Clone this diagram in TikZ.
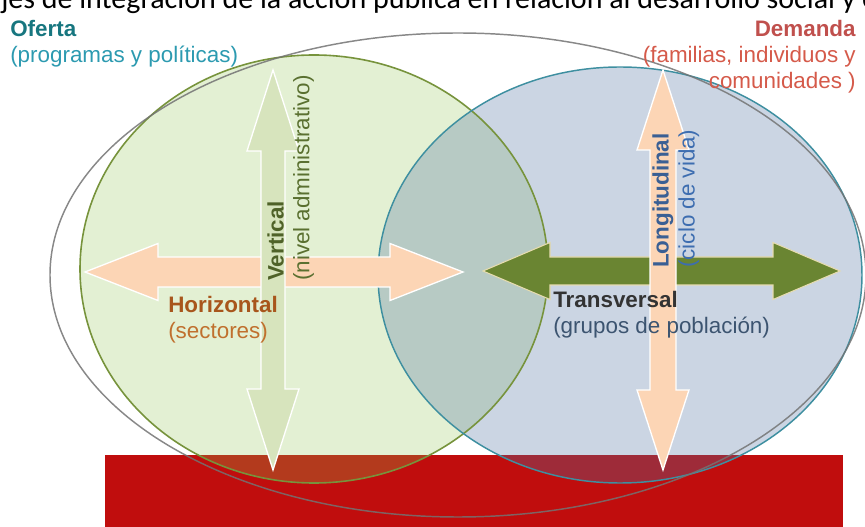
\documentclass[tikz,border=0pt]{standalone}
\usepackage{fontspec}
\setmainfont{Liberation Sans}
\newfontfamily\titlefont{Carlito}
\usepackage{xcolor}
\usetikzlibrary{positioning}

\definecolor{ofertaTeal}{HTML}{17767F}
\definecolor{ofertaLight}{HTML}{2C9AB0}
\definecolor{demandaRed}{HTML}{C0504D}
\definecolor{demandaLight}{HTML}{D55A4A}
\definecolor{vertGreen}{HTML}{4F6228}
\definecolor{vertLight}{HTML}{5A7030}
\definecolor{horzBrown}{HTML}{A8561C}
\definecolor{horzLight}{HTML}{C0702E}
\definecolor{transDark}{HTML}{333333}
\definecolor{transLight}{HTML}{3C5470}
\definecolor{longBlue}{HTML}{3A5F94}
\definecolor{longLight}{HTML}{3D6DB0}
\definecolor{peach}{HTML}{FCD5B5}
\definecolor{paleGreen}{HTML}{D7E4BD}
\definecolor{oliveGreen}{HTML}{6A8532}
\definecolor{oliveEdge}{HTML}{E6DCB0}
\definecolor{ofertaFill}{RGB}{143,195,79}
\definecolor{demandaFill}{RGB}{82,115,162}
\definecolor{ofertaLine}{HTML}{77933C}
\definecolor{demandaLine}{HTML}{3E8FA0}
\definecolor{baseRed}{HTML}{C00D0D}

% double arrows: style, left x, right x, y, head length, head half width, shaft half width
\newcommand{\harrow}[7]{\filldraw[#1] (#2,#4) -- (#2+#5,#4-#6) -- (#2+#5,#4-#7) -- (#3-#5,#4-#7) -- (#3-#5,#4-#6) -- (#3,#4) -- (#3-#5,#4+#6) -- (#3-#5,#4+#7) -- (#2+#5,#4+#7) -- (#2+#5,#4+#6) -- cycle;}
% style, x, top y, bottom y, head length, head half width, shaft half width
\newcommand{\varrow}[7]{\filldraw[#1] (#2,#3) -- (#2+#6,#3+#5) -- (#2+#7,#3+#5) -- (#2+#7,#4-#5) -- (#2+#6,#4-#5) -- (#2,#4) -- (#2-#6,#4-#5) -- (#2-#7,#4-#5) -- (#2-#7,#3+#5) -- (#2-#6,#3+#5) -- cycle;}

\tikzset{
  lbl/.style={inner sep=0pt, font=\fontsize{16.8}{19.5}\selectfont},
  peach arrow/.style={fill=peach, draw=white, line width=1pt},
  pale arrow/.style={fill=paleGreen, draw=white, line width=1pt},
  olive arrow/.style={fill=oliveGreen, draw=oliveEdge, line width=0.8pt}
}

\begin{document}
\begin{tikzpicture}[x=0.75pt,y=-0.75pt]
\useasboundingbox (0,0) rectangle (865,527);

% base bar
\fill[baseRed] (105,455) rectangle (843,530);

% the two areas
\fill[ofertaFill, fill opacity=0.25] (314,269) ellipse [x radius=234, y radius=214];
\fill[demandaFill, fill opacity=0.3] (620,275) ellipse [x radius=242, y radius=208];
\draw[ofertaLine, line width=1.2pt] (314,269) ellipse [x radius=234, y radius=214];
\draw[demandaLine, line width=1.1pt] (620,275) ellipse [x radius=242, y radius=208];
\draw[gray!90!black, line width=1.1pt, opacity=0.85] (458,275) ellipse [x radius=408, y radius=242];

% axes
\harrow{peach arrow}{85}{463}{272}{73}{28.5}{15}
\varrow{pale arrow}{273}{70}{470}{81}{26}{12}
\harrow{olive arrow}{483}{840}{271}{67}{28.5}{14}
\varrow{peach arrow}{663}{70}{470}{80}{26}{13}

% labels
\node[inner sep=0pt, anchor=base west, font=\titlefont\fontsize{22.5}{26}\selectfont] (title) at (1,9)
  {jes de integración de la acción pública en relación al desarrollo social y e};
\node[lbl, anchor=north west, align=left, text=ofertaLight] (oferta) at (10,20)
  {\textcolor{ofertaTeal}{\textbf{Oferta}}\\(programas y políticas)};
\node[lbl, anchor=north east, align=right, text=demandaLight] (demanda) at (856,20)
  {\textcolor{demandaRed}{\textbf{Demanda}}\\(familias, individuos y\\comunidades )};
\node[lbl, anchor=north west, align=left, rotate=90, text=vertLight] (vertical) at (267,281)
  {\textcolor{vertGreen}{\textbf{Vertical}}\\(nivel administrativo)};
\node[lbl, anchor=north west, align=left, text=horzLight] (horizontal) at (168,296)
  {\textcolor{horzBrown}{\textbf{Horizontal}}\\(sectores)};
\node[lbl, anchor=north west, align=left, text=transLight] (transversal) at (553,291)
  {\textcolor{transDark}{\textbf{Transversal}}\\(grupos de población)};
\node[lbl, anchor=north west, align=left, rotate=90, text=longLight] (longitudinal) at (652,268)
  {\textcolor{longBlue}{\textbf{Longitudinal}}\\(ciclo de vida)};
\end{tikzpicture}
\end{document}
